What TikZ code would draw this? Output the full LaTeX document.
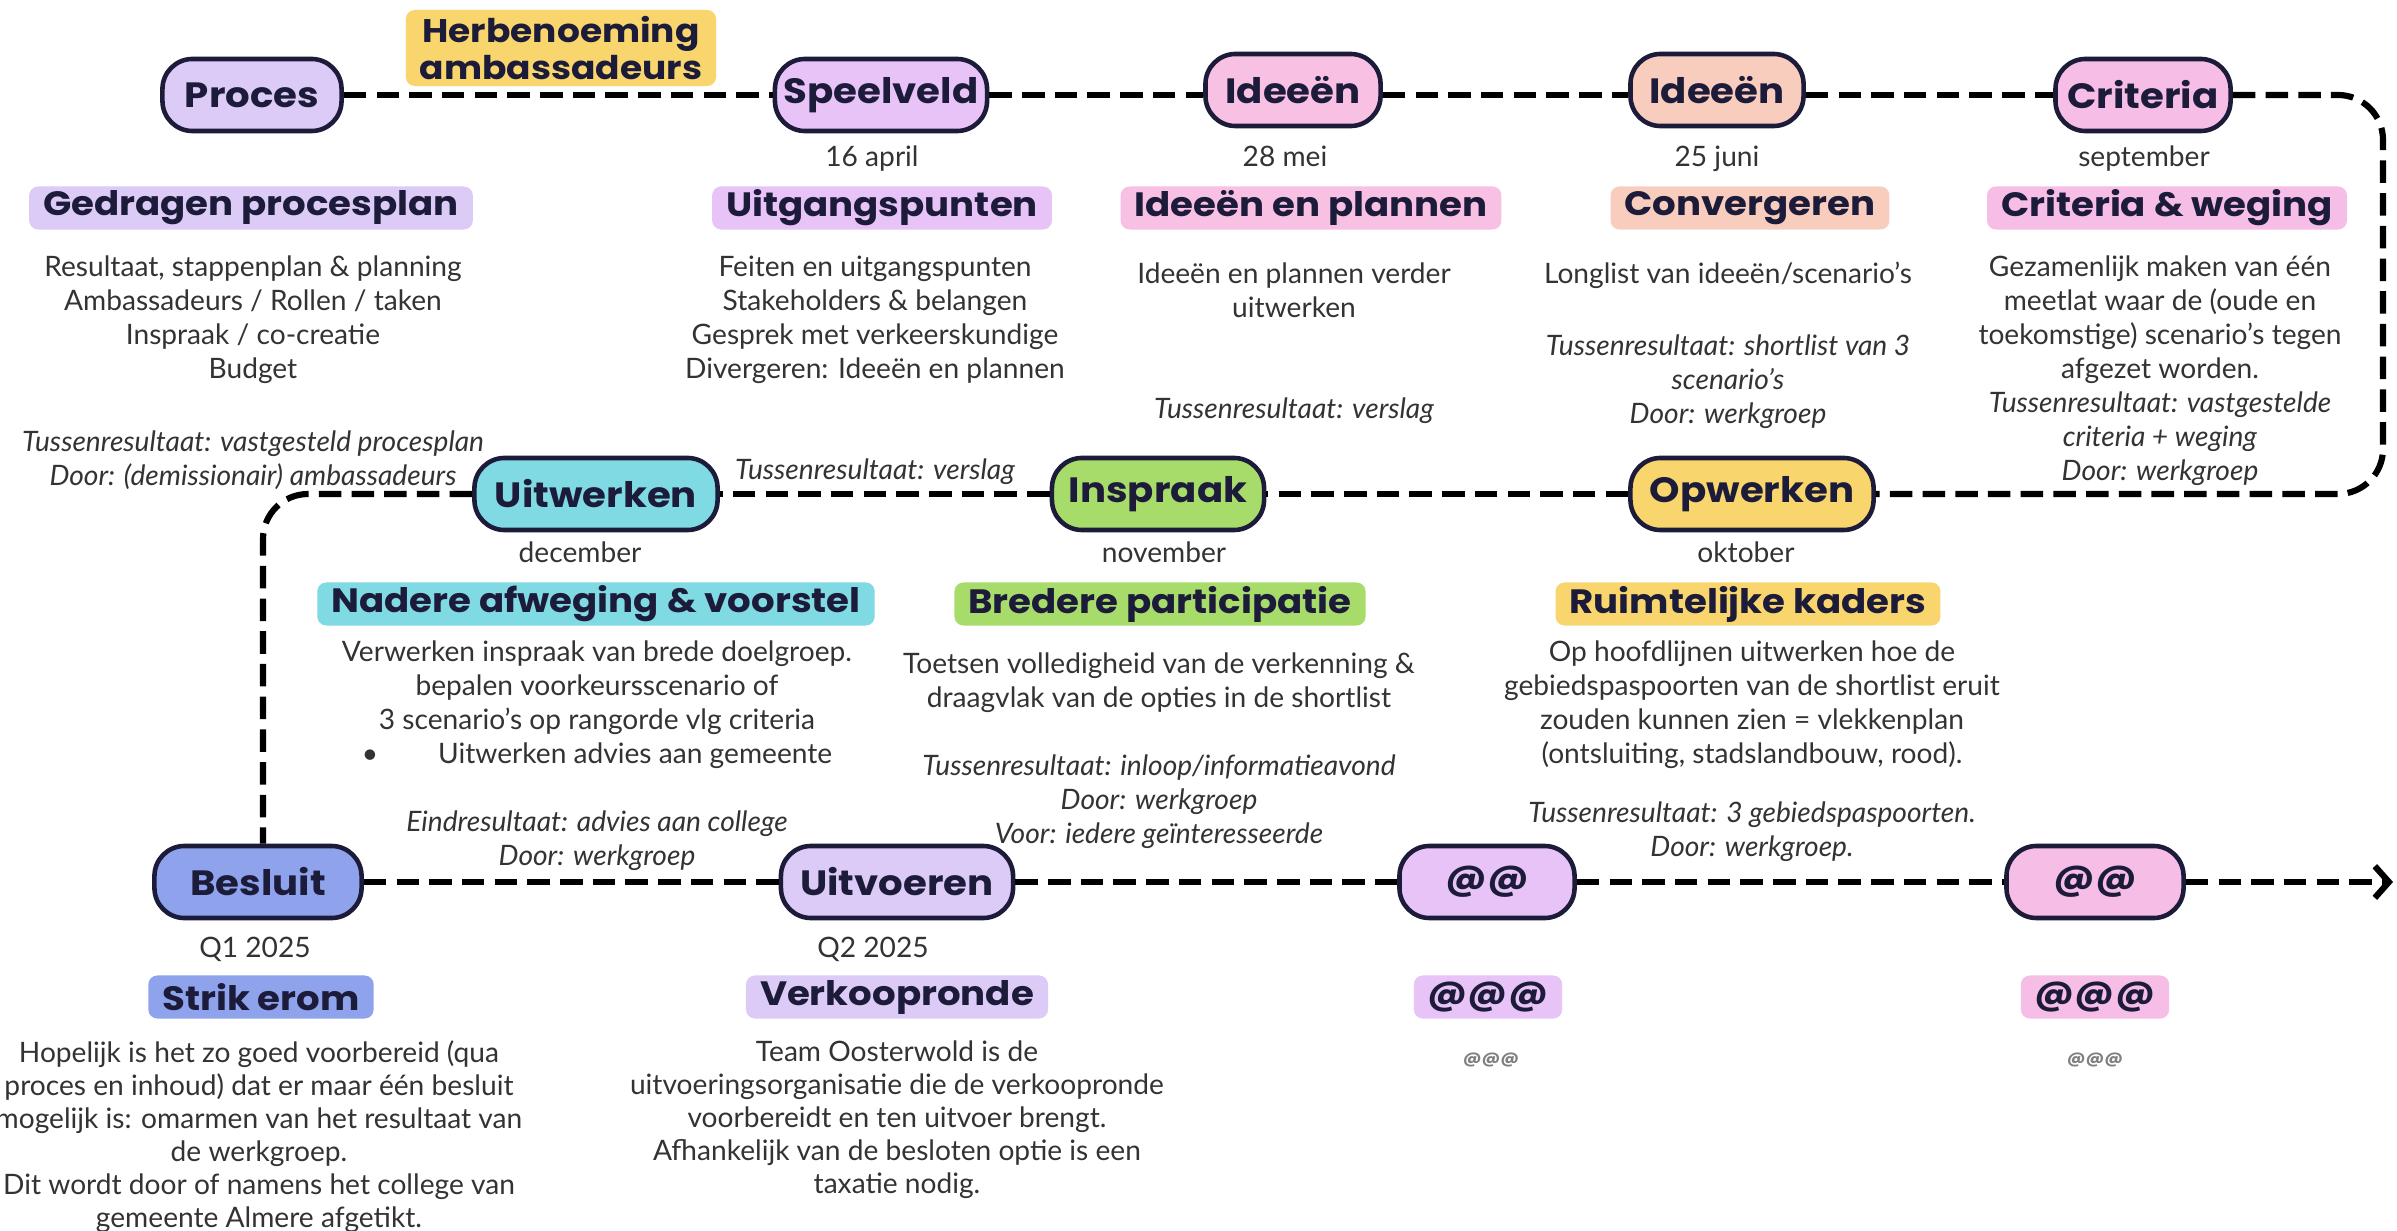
\documentclass[tikz,border=0pt]{standalone}
\usepackage{fontspec}
\setmainfont{Lato}
\newfontfamily\hfont{Poppins}[FakeStretch=1.1]
\usetikzlibrary{arrows.meta}
\definecolor{navy}{HTML}{1C1B3A}
\definecolor{bodygrey}{HTML}{333333}
\definecolor{cLav}{HTML}{DCCBF7}
\definecolor{cYel}{HTML}{F8D66D}
\definecolor{cMauve}{HTML}{E8C3F8}
\definecolor{cPink}{HTML}{F8C1E3}
\definecolor{cPeach}{HTML}{F9CDBE}
\definecolor{cPinkB}{HTML}{F6BDE6}
\definecolor{cCyan}{HTML}{80DAE3}
\definecolor{cGreen}{HTML}{A7DC6B}
\definecolor{cBlue}{HTML}{8EA3EC}
\begin{document}
\begin{tikzpicture}[x=0.01cm,y=-0.01cm,
  stage/.style={draw=navy, line width=1.3pt, rounded corners=0.3cm, minimum height=0.72cm, inner sep=0pt, text=navy, font=\hfont\bfseries\fontsize{10}{12}\selectfont},
  hdr/.style={rounded corners=0.09cm, minimum height=0.43cm, inner xsep=0.14cm, inner ysep=0pt, text=navy, font=\hfont\bfseries\fontsize{9.6}{11}\selectfont},
  txt/.style={align=center, anchor=north, inner sep=0pt, text=bodygrey, font=\fontsize{8}{9.67}\selectfont},
  datelbl/.style={anchor=base, inner sep=0pt, text=bodygrey, font=\fontsize{8}{9.67}\selectfont},
  tiny/.style={inner sep=0pt, text=gray, font=\hfont\bfseries\fontsize{4.5}{5}\selectfont},
  conn/.style={line width=1.75pt, dash pattern=on 6.4pt off 2.9pt, draw=black}]
\useasboundingbox[fill=white] (0,0) rectangle (2397,1231);

% ---------- row 1 ----------
\node[stage, fill=cLav, minimum width=1.79cm] (proces) at (252,95) {Proces};
\node[hdr, fill=cYel, align=center, minimum width=3.01cm, minimum height=0.76cm, font=\hfont\bfseries\fontsize{9.3}{9.4}\selectfont] (herb) at (561,48) {Herbenoeming\\ambassadeurs};
\node[stage, fill=cMauve, minimum width=2.12cm] (speelveld) at (881,95) {Speelveld};
\node[stage, fill=cPink, minimum width=1.75cm] (idee1) at (1293,90) {Ideeën};
\node[stage, fill=cPeach, minimum width=1.73cm] (idee2) at (1717,90) {Ideeën};
\node[stage, fill=cPinkB, minimum width=1.75cm] (criteria) at (2143,95) {Criteria};

\node[datelbl] (d1) at (872,167) {16 april};
\node[datelbl] (d2) at (1285,167) {28 mei};
\node[datelbl] (d3) at (1717,167) {25 juni};
\node[datelbl] (d4) at (2144,167) {september};

\node[hdr, fill=cLav] (h1) at (251,208) {Gedragen procesplan};
\node[hdr, fill=cMauve] (h2) at (882,208) {Uitgangspunten};
\node[hdr, fill=cPink] (h3) at (1311,208) {Ideeën en plannen};
\node[hdr, fill=cPeach] (h4) at (1750,208) {Convergeren};
\node[hdr, fill=cPinkB] (h5) at (2167,208) {Criteria \& weging};

\node[txt] (b1) at (253,255) {Resultaat, stappenplan \& planning\\Ambassadeurs / Rollen / taken\\Inspraak / co-creatie\\Budget\\[11pt]\textit{Tussenresultaat: vastgesteld procesplan}\\\textit{Door: (demissionair) ambassadeurs}};
\node[txt] (b2) at (875,255) {Feiten en uitgangspunten\\Stakeholders \& belangen\\Gesprek met verkeerskundige\\Divergeren: Ideeën en plannen\\[19pt]\textit{Tussenresultaat: verslag}};
\node[txt] (b3) at (1294,262) {Ideeën en plannen verder\\uitwerken\\[19pt]\textit{Tussenresultaat: verslag}};
\node[txt] (b4) at (1728,261) {Longlist van ideeën/scenario's\\[11pt]\textit{Tussenresultaat: shortlist van 3}\\\textit{scenario's}\\\textit{Door: werkgroep}};
\node[txt] (b5) at (2160,255) {Gezamenlijk maken van één\\meetlat waar de (oude en\\toekomstige) scenario's tegen\\afgezet worden.\\\textit{Tussenresultaat: vastgestelde}\\\textit{criteria + weging}\\\textit{Door: werkgroep}};

% ---------- row 2 ----------
\node[stage, fill=cCyan, minimum width=2.43cm] (uitwerken) at (596,494) {Uitwerken};
\node[stage, fill=cGreen, minimum width=2.12cm] (inspraak) at (1158,494) {Inspraak};
\node[stage, fill=cYel, minimum width=2.43cm] (opwerken) at (1752,494) {Opwerken};

\node[datelbl] (d5) at (580,563) {december};
\node[datelbl] (d6) at (1164,563) {november};
\node[datelbl] (d7) at (1746,563) {oktober};

\node[hdr, fill=cCyan] (h6) at (596,604) {Nadere afweging \& voorstel};
\node[hdr, fill=cGreen] (h7) at (1160,604) {Bredere participatie};
\node[hdr, fill=cYel] (h8) at (1748,604) {Ruimtelijke kaders};

\node[txt] (b6) at (597,640) {Verwerken inspraak van brede doelgroep.\\bepalen voorkeursscenario of\\3 scenario's op rangorde vlg criteria\\\textbullet\hspace{0.6cm}Uitwerken advies aan gemeente\\[9.67pt]\textit{Eindresultaat: advies aan college}\\\textit{Door: werkgroep}};
\node[txt] (b7) at (1159,652) {Toetsen volledigheid van de verkenning \&\\draagvlak van de opties in de shortlist\\[9.67pt]\textit{Tussenresultaat: inloop/informatieavond}\\\textit{Door: werkgroep}\\\textit{Voor: iedere geïnteresseerde}};
\node[txt] (b8) at (1752,640) {Op hoofdlijnen uitwerken hoe de\\gebiedspaspoorten van de shortlist eruit\\zouden kunnen zien = vlekkenplan\\(ontsluiting, stadslandbouw, rood).\\[7pt]\textit{Tussenresultaat: 3 gebiedspaspoorten.}\\\textit{Door: werkgroep.}};

% ---------- row 3 ----------
\node[stage, fill=cBlue, minimum width=2.07cm] (besluit) at (258,882) {Besluit};
\node[stage, fill=cLav, minimum width=2.32cm] (uitvoeren) at (897,882) {Uitvoeren};
\node[stage, fill=cMauve, minimum width=1.75cm] (at1) at (1487,882) {@@};
\node[stage, fill=cPinkB, minimum width=1.77cm] (at2) at (2095,882) {@@};

\node[datelbl] (d8) at (255,957) {Q1 2025};
\node[datelbl] (d9) at (873,957) {Q2 2025};

\node[hdr, fill=cBlue] (h9) at (261,997) {Strik erom};
\node[hdr, fill=cLav] (h10) at (897,997) {Verkoopronde};
\node[hdr, fill=cMauve] (h11) at (1488,997) {@@@};
\node[hdr, fill=cPinkB] (h12) at (2095,997) {@@@};

\node[tiny] (s1) at (1491,1060) {@@@};
\node[tiny] (s2) at (2095,1060) {@@@};

\node[txt, font=\fontsize{8}{9.4}\selectfont] (b9) at (259,1040) {Hopelijk is het zo goed voorbereid (qua\\proces en inhoud) dat er maar één besluit\\mogelijk is: omarmen van het resultaat van\\de werkgroep.\\Dit wordt door of namens het college van\\gemeente Almere afgetikt.};
\node[txt, font=\fontsize{8}{9.4}\selectfont] (b10) at (897,1040) {Team Oosterwold is de\\uitvoeringsorganisatie die de verkoopronde\\voorbereidt en ten uitvoer brengt.\\Afhankelijk van de besloten optie is een\\taxatie nodig.};

% ---------- connectors ----------
\coordinate (rt) at (2383,95);
\coordinate (rb) at (2383,494);
\coordinate (lt) at (263,494);
\coordinate (endpt) at (2393,882);

\draw[conn] (proces.east) -- (speelveld.west);
\draw[conn] (speelveld.east) -- (speelveld.east -| idee1.west);
\draw[conn] (idee1.east |- speelveld.east) -- (speelveld.east -| idee2.west);
\draw[conn] (idee2.east |- criteria.west) -- (criteria.west);
\draw[conn, rounded corners=0.45cm] (criteria.east) -- (rt) -- (rb) -- (opwerken.east);
\draw[conn] (opwerken.west) -- (inspraak.east);
\draw[conn] (inspraak.west) -- (uitwerken.east);
\draw[conn, rounded corners=0.45cm] (uitwerken.west) -- (lt) -- (lt |- besluit.north);
\draw[conn] (besluit.east) -- (uitvoeren.west);
\draw[conn] (uitvoeren.east) -- (at1.west);
\draw[conn] (at1.east) -- (at2.west);
\draw[conn, -{Straight Barb[length=4pt,width=9pt]}] (at2.east) -- (endpt);
\end{tikzpicture}
\end{document}
